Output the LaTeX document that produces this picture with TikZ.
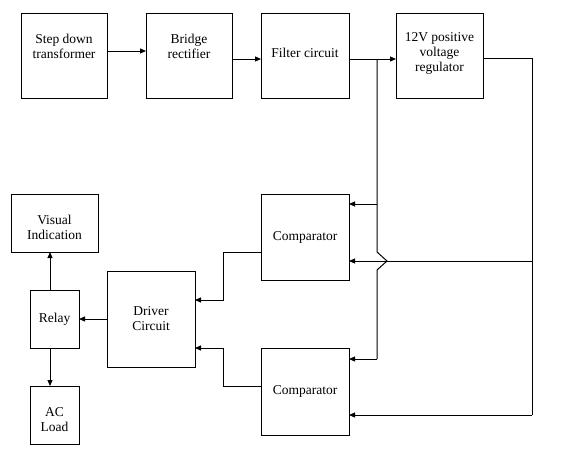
\documentclass[tikz,border=0pt]{standalone}
\usepackage{fontspec}
\setmainfont{Liberation Serif}
\usetikzlibrary{arrows.meta}
\begin{document}
\begin{tikzpicture}[x=1pt,y=-1pt,
  box/.style={draw,line width=1pt,inner sep=0pt,outer sep=0pt,align=center,font=\fontsize{13.5}{15}\selectfont},
  lbl/.style={align=center,inner sep=0pt,font=\fontsize{13.5}{15}\selectfont},
  wire/.style={line width=1pt},
  arr/.style={line width=1pt,-{Triangle[length=6pt,width=5pt]}}]
\useasboundingbox (0,0) rectangle (561,469);
% boxes
\node[box,minimum width=86pt,minimum height=85pt,label={[lbl,yshift=9.5pt]center:{Step down\\transformer}}] (tr) at (64,55.5) {};
\node[box,minimum width=86pt,minimum height=85pt,label={[lbl,yshift=9.5pt]center:{Bridge\\rectifier}}] (br) at (189,55.5) {};
\node[box,minimum width=88pt,minimum height=85pt,label={[lbl,yshift=2.5pt]center:{Filter circuit}}] (fi) at (305,55.5) {};
\node[box,minimum width=87pt,minimum height=85pt,label={[lbl,yshift=2.5pt]center:{12V positive\\voltage\\regulator}}] (rg) at (439.5,55.5) {};
\node[box,minimum width=88pt,minimum height=86pt] (c1) at (305,237) {Comparator};
\node[box,minimum width=88pt,minimum height=87pt] (c2) at (305,391.5) {Comparator};
\node[box,minimum width=87pt,minimum height=58pt,label={[lbl,yshift=-4.5pt]center:{Visual\\Indication}}] (vi) at (54.5,223) {};
\node[box,minimum width=49pt,minimum height=58pt] (re) at (54.5,319) {Relay};
\node[box,minimum width=49pt,minimum height=58pt,label={[lbl,yshift=-5pt]center:{AC\\Load}}] (ac) at (54.5,415) {};
\node[box,minimum width=88pt,minimum height=96pt] (dr) at (151,319) {Driver\\Circuit};
% helper coordinates
\coordinate (ya) at (0,51);
\coordinate (yb) at (0,59);
\coordinate (yr) at (0,58);
\coordinate (j) at (377,59);
\coordinate (ja) at (377,204);
\coordinate (h1) at (377,252);
\coordinate (h2) at (387,261);
\coordinate (h3) at (377,270);
\coordinate (jb) at (377,359);
\coordinate (r1) at (532,58);
\coordinate (r2) at (532,261);
\coordinate (r3) at (532,415);
\coordinate (d1) at (223,252);
\coordinate (d2) at (223,300);
\coordinate (d3) at (223,386);
\coordinate (d4) at (223,348);
\coordinate (xr) at (50,0);
% connectors
\draw[arr] (tr.east |- ya) -- (br.west |- ya);
\draw[arr] (br.east |- yb) -- (fi.west |- yb);
\draw[arr] (fi.east |- yb) -- (rg.west |- yb);
\draw[wire] (j) -- (h1) -- (h2) -- (h3) -- (jb);
\draw[arr] (jb) -- (c2.east |- jb);
\draw[arr] (ja) -- (c1.east |- ja);
\draw[wire] (rg.east |- yr) -- (r1) -- (r3);
\draw[arr] (r3) -- (c2.east |- r3);
\draw[arr] (r2) -- (c1.east |- r2);
\draw[arr] (c1.west |- d1) -- (d1) -- (d2) -- (dr.east |- d2);
\draw[arr] (c2.west |- d3) -- (d3) -- (d4) -- (dr.east |- d4);
\draw[arr] (dr.west |- re.east) -- (re.east);
\draw[arr] (re.north -| xr) -- (vi.south -| xr);
\draw[arr] (re.south -| xr) -- (ac.north -| xr);
\end{tikzpicture}
\end{document}
